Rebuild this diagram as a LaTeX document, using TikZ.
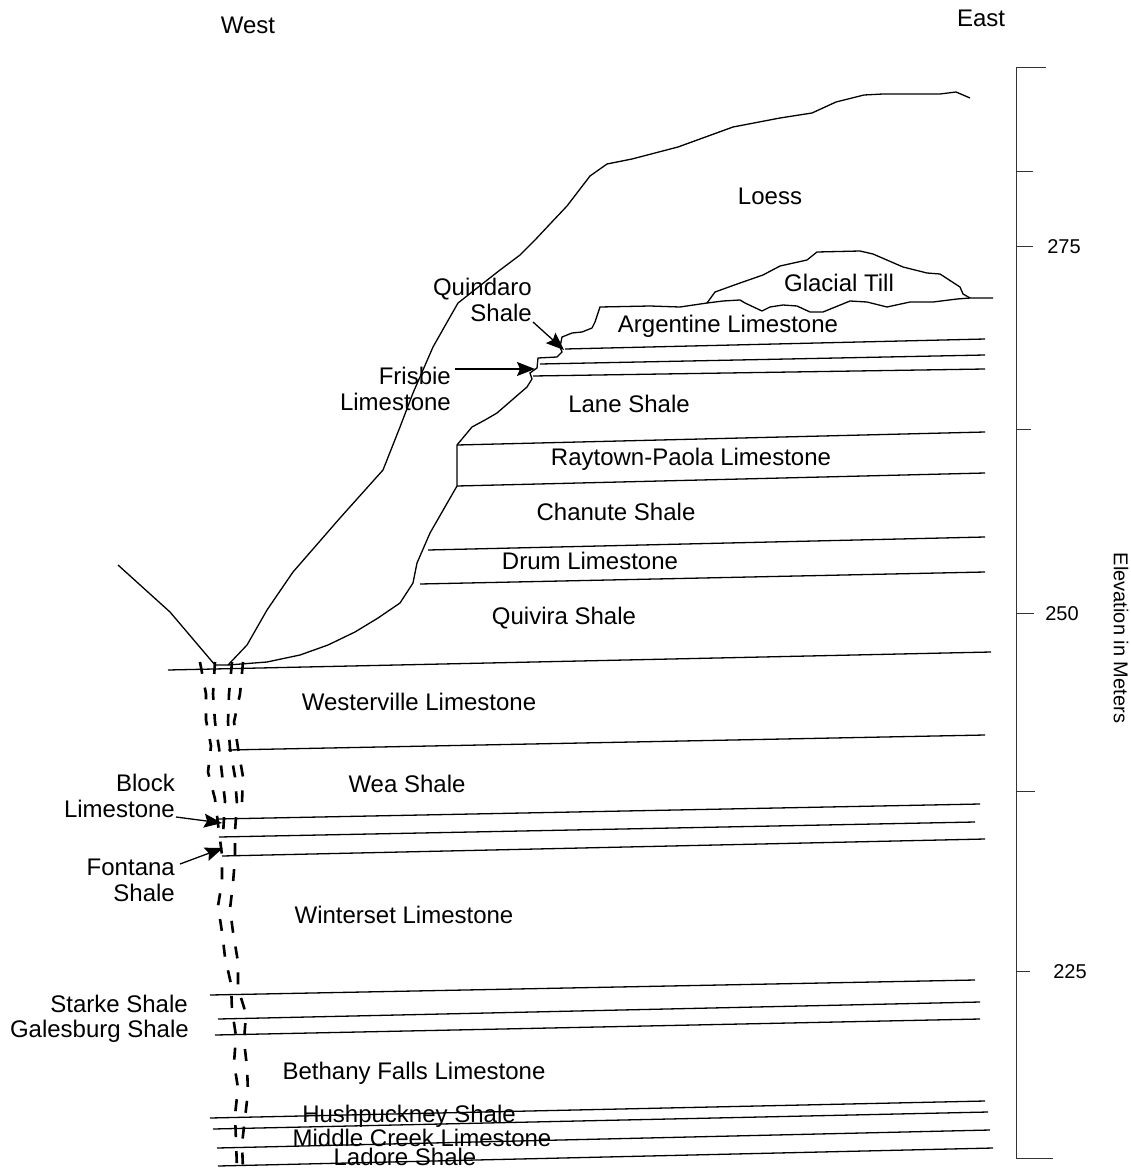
\documentclass[tikz,border=0pt]{standalone}
\usepackage{fontspec}
\setmainfont{Liberation Sans}
\usetikzlibrary{arrows.meta}
\tikzset{
	bed/.style={line width=1.3pt},
	fault/.style={line width=2.6pt, dash pattern=on 12pt off 14pt},
	lbl/.style={font=\fontsize{24}{26}\selectfont, inner sep=0pt},
	scalelbl/.style={font=\fontsize{20}{22}\selectfont, inner sep=0pt},
	pointer/.style={line width=1.3pt, -{Stealth[length=18pt,width=14pt,inset=3pt]}},
}
% one bedding plane from its left end to its right end
\newcommand{\bedplane}[4]{
	\draw[bed] (#1,#2) -- (#3,#4);
}
% elevation ticks: y position / right end of tick
\newcommand{\elevticks}[1]{
	\foreach \y/\r in {#1} {
		\draw[black!80, line width=1pt] (1016,\y) -- (\r,\y);
	};
}

\begin{document}
\begin{tikzpicture}[x=1pt,y=-1pt]
	\useasboundingbox (0,0) rectangle (1131,1169);
	
	\node[lbl] (west) at (248,25) {West};
	\node[lbl] (east) at (981,18) {East};
	
	% elevation bar
	\draw[black!80, line width=1pt] (1046,68) -- (1016,68) -- (1016,1158) -- (1053,1158);
	\elevticks{172/1033,246/1033,429/1031,613/1034,791/1035,971/1030}
	\node[scalelbl] (e275) at (1064,247) {275};
	\node[scalelbl] (e250) at (1062,614) {250};
	\node[scalelbl] (e225) at (1070,972) {225};
	\node[scalelbl, rotate=-90] (elev) at (1121,638) {Elevation in Meters};
	
	% land surface on the loess, down into the valley
	\draw[bed] (970,98) -- (956,92) -- (940,94) -- (883,94) -- (864,95) -- (836,102)
		-- (812,113) -- (780,118) -- (733,127) -- (678,147) -- (632,159) -- (607,164)
		-- (590,176) -- (567,206) -- (550,224) -- (535,240) -- (520,255) -- (500,270)
		-- (458,303) -- (450,317) -- (433,347) -- (413,393) -- (400,427) -- (383,470)
		-- (340,518) -- (293,572) -- (267,610) -- (247,645) -- (228,665);
	\draw[bed] (118,565) -- (170,612) -- (215,665) -- (228,665);
	
	% top of bedrock, then base of the till
	\draw[bed] (228,665) -- (267,662) -- (300,655) -- (328,645) -- (355,632) -- (378,618)
		-- (400,603) -- (413,583) -- (417,563) -- (430,533) -- (457,486) -- (457,445)
		-- (472,427) -- (485,420) -- (497,413) -- (527,387) -- (532,379) -- (530,373)
		-- (537,368) -- (538,358) -- (557,357) -- (562,352) -- (560,347) -- (562,337)
		-- (572,333) -- (582,332) -- (592,328) -- (595,322) -- (600,307) -- (650,306)
		-- (680,307) -- (707,303) -- (723,301) -- (740,300) -- (745,303) -- (762,311)
		-- (770,307) -- (783,305) -- (797,306) -- (810,312) -- (823,312) -- (850,301)
		-- (867,302) -- (887,307) -- (910,302) -- (933,302) -- (957,299) -- (970,298)
		-- (993,298);
	% top of the till
	\draw[bed] (707,303) -- (715,292) -- (740,283) -- (763,275) -- (780,266) -- (807,260)
		-- (817,252) -- (860,251) -- (873,254) -- (903,267) -- (927,273) -- (940,274)
		-- (960,287) -- (963,294) -- (970,298);
	
	% bedding planes
	\bedplane{565}{349}{985}{339}
	\bedplane{540}{364}{985}{355}
	\bedplane{533}{376}{985}{369}
	\bedplane{457}{445}{985}{432}
	\bedplane{457}{486}{985}{473}
	\bedplane{428}{550}{985}{537}
	\bedplane{420}{584}{985}{572}
	\bedplane{168}{670}{991}{652}
	\bedplane{228}{750}{985}{735}
	\bedplane{218}{819}{980}{804}
	\bedplane{219}{837}{975}{822}
	\bedplane{222}{856}{985}{839}
	\bedplane{210}{995}{975}{980}
	\bedplane{218}{1019}{980}{1002}
	\bedplane{215}{1035}{980}{1019}
	\bedplane{210}{1118}{985}{1101}
	\bedplane{213}{1129}{988}{1112}
	\bedplane{217}{1148}{990}{1130}
	\bedplane{218}{1166}{993}{1148}
	
	% faults under the valley
	\draw[fault] (200,662) -- (206,694) -- (206,720) -- (211,746) -- (208,772) -- (215,799)
		-- (218,824) -- (222,855) -- (222,882) -- (218,906) -- (222,932) -- (225,957)
		-- (231,984) -- (232,1010) -- (236,1036) -- (234,1063) -- (238,1088) -- (235,1115)
		-- (236,1141) -- (237,1169);
	\draw[fault] (215,662) -- (213,694) -- (215,722) -- (219,748) -- (222,774) -- (225,801)
		-- (223,835);
	\draw[fault] (232,662) -- (229,694) -- (228,722) -- (230,748) -- (235,777) -- (237,804)
		-- (235,831) -- (235,858) -- (233,883) -- (230,909) -- (233,932) -- (238,962)
		-- (238,988) -- (246,1014) -- (244,1041) -- (247,1067) -- (248,1092) -- (245,1118)
		-- (242,1144) -- (243,1169);
	\draw[fault] (243,662) -- (240,694) -- (234,722) -- (238,748) -- (243,777) -- (242,802);
	
	% unit names
	\node[lbl] (loess) at (770,196) {Loess};
	\node[lbl] (till) at (839,283) {Glacial Till};
	\node[lbl] (argentine) at (728,326) {Argentine Limestone};
	\node[lbl] (lane) at (629,404) {Lane Shale};
	\node[lbl] (raytown) at (691,459) {Raytown-Paola Limestone};
	\node[lbl] (chanute) at (616,512) {Chanute Shale};
	\node[lbl] (drum) at (590,561) {Drum Limestone};
	\node[lbl] (quivira) at (564,618) {Quivira Shale};
	\node[lbl] (westerville) at (419,702) {Westerville Limestone};
	\node[lbl] (wea) at (407,784) {Wea Shale};
	\node[lbl] (winterset) at (404,915) {Winterset Limestone};
	\node[lbl] (bethany) at (414,1073) {Bethany Falls Limestone};
	\node[lbl] (hushpuckney) at (409,1116) {Hushpuckney Shale};
	\node[lbl] (middlecreek) at (422,1138) {Middle Creek Limestone};
	\node[lbl] (ladore) at (405,1157) {Ladore Shale};
	\node[lbl, anchor=east] (starke) at (188,1004) {Starke Shale};
	\node[lbl, anchor=east] (galesburg) at (189,1031) {Galesburg Shale};
	
	% thin units, labelled off to the side
	\node[lbl, anchor=east, align=right] (quindaro) at (532,300) {Quindaro\\Shale};
	\node[lbl, anchor=east, align=right] (frisbie) at (451,389) {Frisbie\\Limestone};
	\node[lbl, anchor=east, align=right] (block) at (175,796) {Block\\Limestone};
	\node[lbl, anchor=east, align=right] (fontana) at (175,880) {Fontana\\Shale};
	
	\coordinate (quindaroFrom) at (533,322);
	\coordinate (quindaroTip) at (564,350);
	\coordinate (frisbieFrom) at (455,369);
	\coordinate (frisbieTip) at (535,369);
	\coordinate (blockFrom) at (176,817);
	\coordinate (blockTip) at (222,823);
	\coordinate (fontanaFrom) at (180,864);
	\coordinate (fontanaTip) at (223,848);
	\draw[pointer] (quindaroFrom) -- (quindaroTip);
	\draw[pointer] (frisbieFrom) -- (frisbieTip);
	\draw[pointer] (blockFrom) -- (blockTip);
	\draw[pointer] (fontanaFrom) -- (fontanaTip);
\end{tikzpicture}
\end{document}
